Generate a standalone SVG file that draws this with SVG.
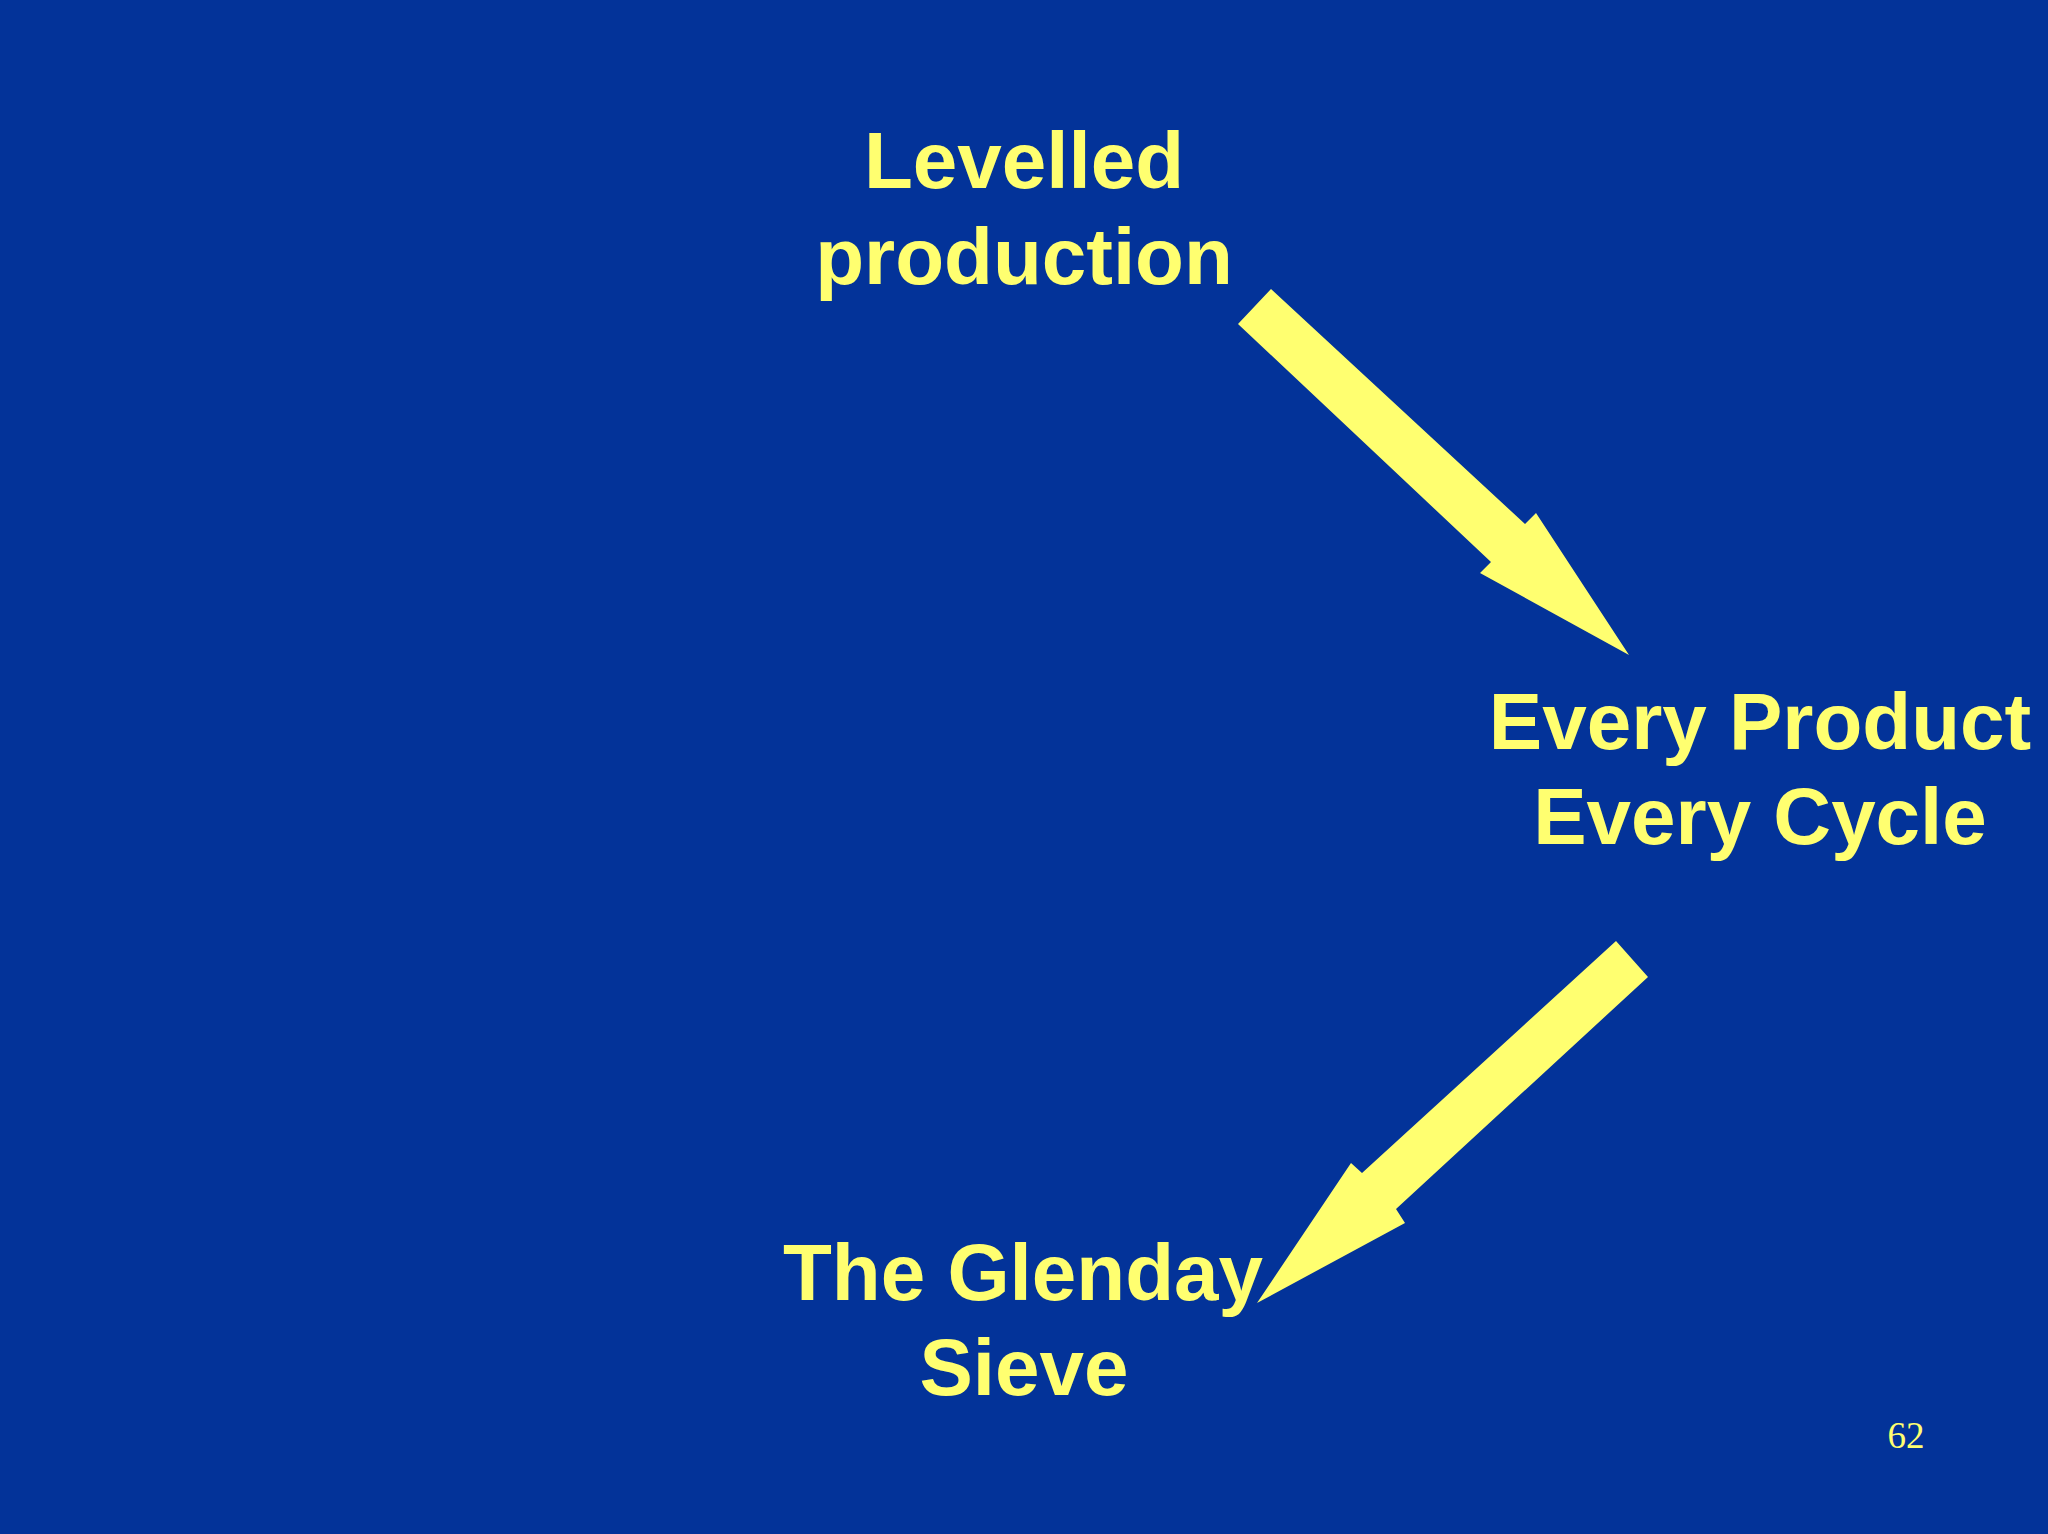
<svg xmlns="http://www.w3.org/2000/svg" width="2048" height="1534" viewBox="0 0 2048 1534">
<style>
.lbl{font-family:"Liberation Sans",Arial,sans-serif;font-weight:bold;font-size:80px;fill:#FFFF70;text-anchor:middle}
.arrow{fill:#FFFF70}
.pg{font-family:"Liberation Serif","Times New Roman",serif;font-size:37px;fill:#FFFF70;text-anchor:middle}
</style>
<rect x="0" y="0" width="2048" height="1534" fill="#033399"/>
<g id="node-levelled">
<text class="lbl" x="1024" y="188">Levelled</text>
<text class="lbl" x="1024" y="284">production</text>
</g>
<g id="node-epec">
<text class="lbl" x="1760" y="749">Every Product</text>
<text class="lbl" x="1760" y="844">Every Cycle</text>
</g>
<g id="node-glenday">
<text class="lbl" x="1023" y="1300">The Glenday</text>
<text class="lbl" x="1024" y="1395">Sieve</text>
</g>
<g id="connectors">
<polygon class="arrow" points="1238,324 1271,289 1525,524 1536,513 1629,655 1480,573 1491,562"/>
<polygon class="arrow" points="1616,941 1648,977 1396,1209 1405,1223 1257,1303 1351,1163 1362,1173"/>
</g>
<text class="pg" x="1906" y="1448">62</text>
</svg>
